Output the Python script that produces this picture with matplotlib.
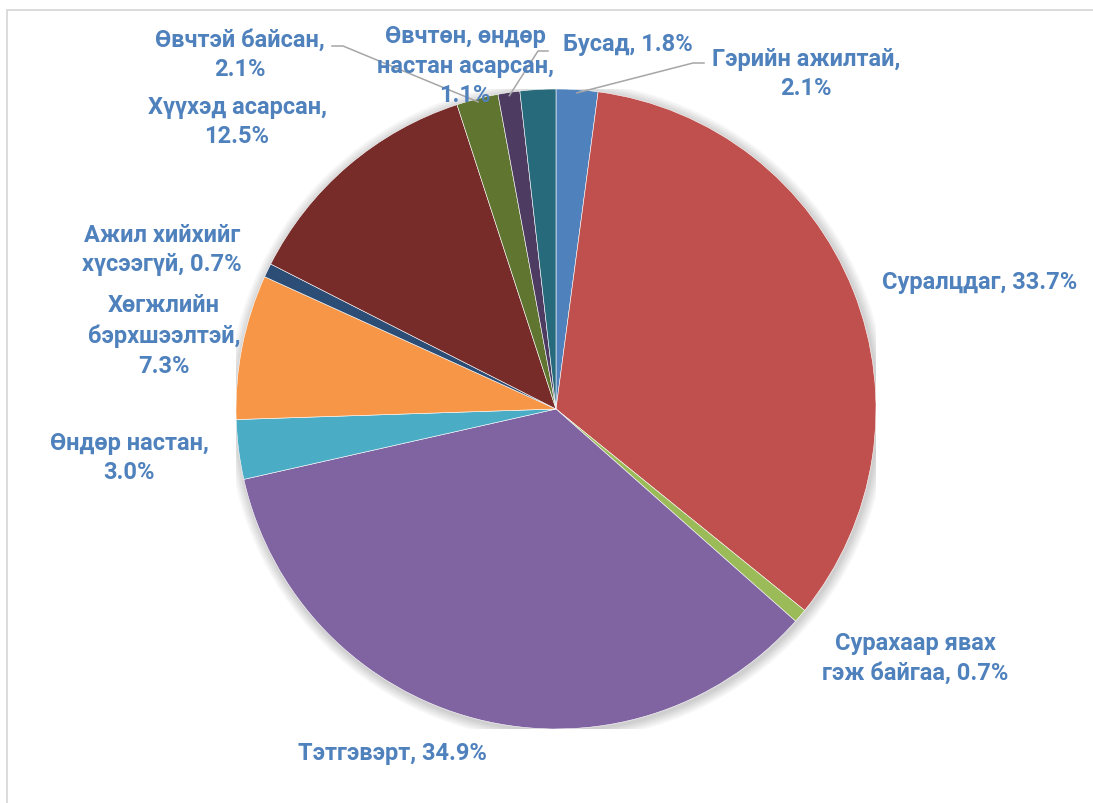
import matplotlib
matplotlib.use("Agg")
import matplotlib.pyplot as plt
import numpy as np
from matplotlib.patches import Circle, Rectangle

plt.rcParams["font.family"] = ["Roboto", "Noto Sans", "DejaVu Sans"]

categories = [
    "Гэрийн ажилтай",
    "Суралцдаг",
    "Сурахаар явах\nгэж байгаа",
    "Тэтгэвэрт",
    "Өндөр настан",
    "Хөгжлийн\nбэрхшээлтэй",
    "Ажил хийхийг\nхүсээгүй",
    "Хүүхэд асарсан",
    "Өвчтэй байсан",
    "Өвчтөн, өндөр\nнастан асарсан",
    "Бусад",
]
shares = [2.1, 33.7, 0.7, 34.9, 3.0, 7.3, 0.7, 12.5, 2.1, 1.1, 1.8]
label_texts = [
    "Гэрийн ажилтай,\n2.1%",
    "Суралцдаг, 33.7%",
    "Сурахаар явах\nгэж байгаа, 0.7%",
    "Тэтгэвэрт, 34.9%",
    "Өндөр настан,\n3.0%",
    "Хөгжлийн\nбэрхшээлтэй,\n7.3%",
    "Ажил хийхийг\nхүсээгүй, 0.7%",
    "Хүүхэд асарсан,\n12.5%",
    "Өвчтэй байсан,\n2.1%",
    "Өвчтөн, өндөр\nнастан асарсан,\n1.1%",
    "Бусад, 1.8%",
]
colors = ["#4F81BD", "#C0504D", "#9BBB59", "#8064A2", "#4BACC6", "#F79646",
          "#2C4D75", "#772C2A", "#5F7530", "#4D3B62", "#276A7C"]

# label centres in pixel coords of the 1093x804 picture
label_px = [(806, 74), (980, 283), (915, 658), (392, 754), (129, 458), (164, 336),
            (162, 250), (237, 122), (240, 55), (465, 66), (628, 44)]
# leader lines: label-side elbow points for the slices that have them
leaders = {
    0: [(704, 64), (693, 64)],
    8: [(332, 47), (343, 47)],
    9: [(548, 52), (538, 52)],
}

W, H = 1093, 804
CX, CY, R = 556, 410, 320


def to_data(px, py):
    return (px - CX) / R, (CY - py) / R


fig = plt.figure(figsize=(W / 100, H / 100), dpi=100)
fig.patches.append(Rectangle((7 / W, -0.1), 1.2, 1 - 11 / H + 0.1, transform=fig.transFigure,
                             fill=False, edgecolor="#D9D9D9", lw=1.3))

ax = fig.add_axes([(CX - R) / W, (H - CY - R) / H, 2 * R / W, 2 * R / H])

# soft glow behind the pie
for k in range(8):
    ax.add_patch(Circle((0.004, -0.006), 1.0 + 0.004 * (k + 1), color="#000000",
                        alpha=0.025, lw=0, zorder=0))

wedges, _ = ax.pie(shares, colors=colors, startangle=90, counterclock=False,
                   radius=1.0, wedgeprops={"edgecolor": "white", "linewidth": 0.4},
                   normalize=True)
for w in wedges:
    w.set_zorder(2)

ax.set_xlim(-1, 1)
ax.set_ylim(-1, 1)
ax.set_aspect("equal")
ax.axis("off")

for i, (txt, (px, py)) in enumerate(zip(label_texts, label_px)):
    x, y = to_data(px, py)
    ax.text(x, y, txt, ha="center", va="center", fontsize=17, fontweight="bold",
            color="#4F81BD", linespacing=1.38, clip_on=False, zorder=5)
    if i in leaders:
        w = wedges[i]
        ang = np.deg2rad((w.theta1 + w.theta2) / 2)
        pts = [to_data(*p) for p in leaders[i]]
        pts.append((np.cos(ang) * 0.99, np.sin(ang) * 0.99))
        xs, ys = zip(*pts)
        ax.plot(xs, ys, color="#A6A6A6", lw=1.1, clip_on=False, zorder=4)

fig.savefig("out.png", dpi=100)
